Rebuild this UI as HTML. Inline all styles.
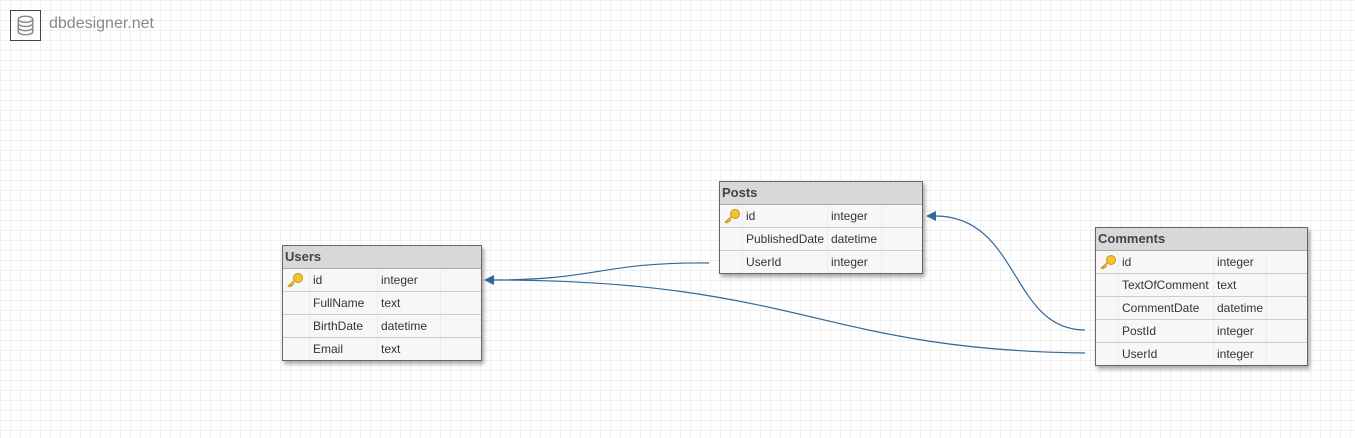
<!DOCTYPE html>
<html><head><style>
body{margin:0;width:1355px;height:438px;overflow:hidden;font-family:"Liberation Sans",Arial,sans-serif;
background-color:#fff;
background-image:linear-gradient(#f0f0f0 1px,transparent 1px),linear-gradient(90deg,#f0f0f0 1px,transparent 1px);
background-size:10px 10px;background-position:0 0;position:relative}
.t{position:absolute;border:1px solid #666;background:#f7f7f7;box-shadow:2px 3px 4px rgba(0,0,0,.35);font-size:12px;color:#333}
.h{height:22px;background:#d8d8d8;border-bottom:1px solid #aaa;font-weight:bold;font-size:13px;line-height:22px;padding-left:2px;color:#444}
.r{height:22px;border-bottom:1px solid #ccc;position:relative;line-height:22px}
.r:last-child{border-bottom:none}
.r span{position:absolute;top:0;height:22px;border-left:1px solid #ededed;padding-left:3px;box-sizing:border-box}
.k{position:absolute;left:3px;top:3px}
.logo{position:absolute;left:10px;top:10px;width:31px;height:31px;border:1px solid #444;box-sizing:border-box}
</style></head><body>
<div class="logo"><svg width="29" height="29" viewBox="0 0 28 28"><g fill="none" stroke="#888" stroke-width="1.4"><ellipse cx="14" cy="8" rx="7" ry="3"/><path d="M7 8v12c0 1.6 3.1 3 7 3s7-1.4 7-3V8M7 12c0 1.6 3.1 3 7 3s7-1.4 7-3M7 16c0 1.6 3.1 3 7 3s7-1.4 7-3"/></g></svg></div>
<div style="position:absolute;left:49px;top:15px;font-size:16px;color:#888">dbdesigner.net</div>

<svg style="position:absolute;left:0;top:0" width="1355" height="438">
<g fill="none" stroke="#336699" stroke-width="1.2">
<path d="M709 263 C600 262,600 280,492 280"/>
<path d="M1085 353 C820 350,800 280,492 280"/>
<path d="M1085 330 C1010 330,1020 216,935 216"/>
</g>
<path d="M484 280 L494 275 L494 285 Z" fill="#336699"/>
<path d="M926 216 L936 211 L936 221 Z" fill="#336699"/>
</svg>

<div class="t" style="left:282px;top:245px;width:198px">
<div class="h">Users</div>
<div class="r"><svg class="k" width="18" height="16" viewBox="0 0 18 16"><circle cx="12" cy="6" r="4.5" fill="#f2c431" stroke="#c8961a"/><path d="M9 8 L2 14 L4 15 L5 13 L6 14 L8 11" fill="#f2c431" stroke="#c8961a"/></svg><span style="left:26px;width:68px">id</span><span style="left:94px;width:63px">integer</span><span style="left:157px;width:41px"></span></div>
<div class="r"><span style="left:26px;width:68px">FullName</span><span style="left:94px;width:63px">text</span><span style="left:157px;width:41px"></span></div>
<div class="r"><span style="left:26px;width:68px">BirthDate</span><span style="left:94px;width:63px">datetime</span><span style="left:157px;width:41px"></span></div>
<div class="r"><span style="left:26px;width:68px">Email</span><span style="left:94px;width:63px">text</span><span style="left:157px;width:41px"></span></div>
</div>

<div class="t" style="left:719px;top:181px;width:202px">
<div class="h">Posts</div>
<div class="r"><svg class="k" width="18" height="16" viewBox="0 0 18 16"><circle cx="12" cy="6" r="4.5" fill="#f2c431" stroke="#c8961a"/><path d="M9 8 L2 14 L4 15 L5 13 L6 14 L8 11" fill="#f2c431" stroke="#c8961a"/></svg><span style="left:22px;width:85px">id</span><span style="left:107px;width:54px">integer</span><span style="left:161px;width:41px"></span></div>
<div class="r"><span style="left:22px;width:85px">PublishedDate</span><span style="left:107px;width:54px">datetime</span><span style="left:161px;width:41px"></span></div>
<div class="r"><span style="left:22px;width:85px">UserId</span><span style="left:107px;width:54px">integer</span><span style="left:161px;width:41px"></span></div>
</div>

<div class="t" style="left:1095px;top:227px;width:211px">
<div class="h">Comments</div>
<div class="r"><svg class="k" width="18" height="16" viewBox="0 0 18 16"><circle cx="12" cy="6" r="4.5" fill="#f2c431" stroke="#c8961a"/><path d="M9 8 L2 14 L4 15 L5 13 L6 14 L8 11" fill="#f2c431" stroke="#c8961a"/></svg><span style="left:22px;width:95px">id</span><span style="left:117px;width:53px">integer</span><span style="left:170px;width:41px"></span></div>
<div class="r"><span style="left:22px;width:95px">TextOfComment</span><span style="left:117px;width:53px">text</span><span style="left:170px;width:41px"></span></div>
<div class="r"><span style="left:22px;width:95px">CommentDate</span><span style="left:117px;width:53px">datetime</span><span style="left:170px;width:41px"></span></div>
<div class="r"><span style="left:22px;width:95px">PostId</span><span style="left:117px;width:53px">integer</span><span style="left:170px;width:41px"></span></div>
<div class="r"><span style="left:22px;width:95px">UserId</span><span style="left:117px;width:53px">integer</span><span style="left:170px;width:41px"></span></div>
</div>
</body></html>
